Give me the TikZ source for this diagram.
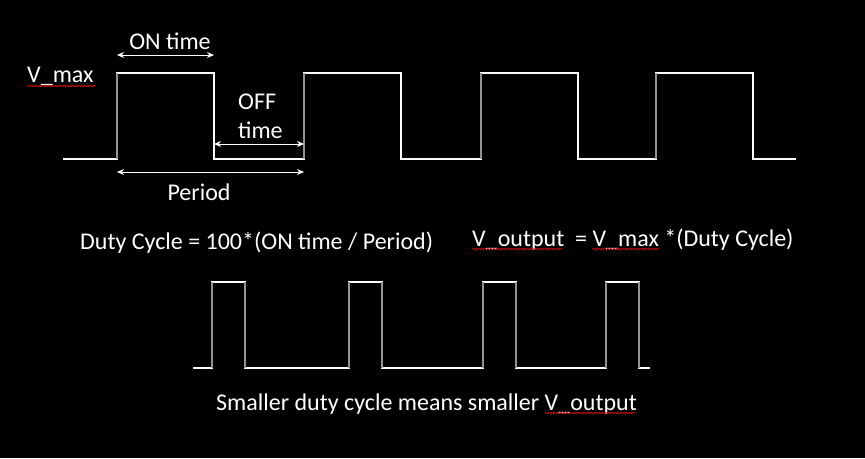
\documentclass[tikz,border=0pt]{standalone}
\usepackage{fontspec}
\setmainfont{Carlito}
\usetikzlibrary{arrows.meta,decorations.pathmorphing}
\begin{document}
\begin{tikzpicture}[x=1pt,y=-1pt,
  lbl/.style={text=white,font=\fontsize{24}{29}\selectfont,inner sep=0pt},
  dim/.style={draw=white,line width=1pt,{Stealth[length=7pt,width=6pt]}-{Stealth[length=7pt,width=6pt]}},
  wave/.style={draw=white,line width=1.3pt},
  edge/.style={draw=gray!85,line width=1.6pt},
  squig/.style={draw=red!85!black,line width=0.7pt,decorate,decoration={snake,amplitude=0.8pt,segment length=3pt}}]
\fill[black] (0,0) rectangle (865,458);
\useasboundingbox (0,0) rectangle (865,458);
% top waveform
\draw[wave] (63,159) -- (117,159) -- (117,73) -- (214,73) -- (214,159) -- (304,159) -- (304,73) -- (401,73) -- (401,159) -- (481,159) -- (481,73) -- (578,73) -- (578,159) -- (656,159) -- (656,73) -- (753,73) -- (753,159) -- (796,159);
\foreach \x in {117,304,481,656} \draw[edge] (\x,159) -- (\x,73);
% bottom waveform
\draw[wave] (193,368) -- (212,368) -- (212,282) -- (245,282) -- (245,368) -- (349,368) -- (349,282) -- (382,282) -- (382,368) -- (483,368) -- (483,282) -- (516,282) -- (516,368) -- (606,368) -- (606,282) -- (639,282) -- (639,368) -- (650,368);
\foreach \x in {212,245,349,382,483,516,606,639} \draw[edge] (\x,368) -- (\x,282);
% dimension arrows
\coordinate (on1) at (117,55);  \coordinate (on2) at (214,55);
\coordinate (off1) at (214,144); \coordinate (off2) at (304,144);
\coordinate (per1) at (117,172); \coordinate (per2) at (304,172);
\draw[dim] (on1) -- (on2);
\draw[dim] (off1) -- (off2);
\draw[dim] (per1) -- (per2);
% labels
\node[lbl,anchor=base] (ontime) at (170,49) {ON time};
\node[lbl,anchor=base west] (off) at (238,109) {OFF};
\node[lbl,anchor=base west] (offtime) at (238,138) {time};
\node[lbl,anchor=base] (period) at (199,200) {Period};
\node[lbl,anchor=base west] (vmax) at (27,82) {V\_max};
\node[lbl,anchor=base west] (duty) at (80,249) {Duty Cycle = 100*(ON time / Period)};
\node[lbl,anchor=base west] (vout) at (472,246) {V\_output\ \ = V\_max *(Duty Cycle)};
\node[lbl,anchor=base west] (small) at (216,410) {Smaller duty cycle means smaller V\_output};
% spell-check squiggles
\draw[squig] (27,86) -- (95,86);
\draw[squig] (472,249) -- (562,249);
\draw[squig] (592,249) -- (659,249);
\draw[squig] (545,413) -- (635,413);
\end{tikzpicture}
\end{document}
